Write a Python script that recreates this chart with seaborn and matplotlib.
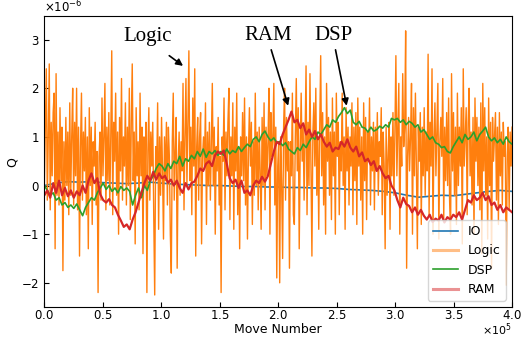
import matplotlib
matplotlib.use('Agg')
import numpy as np
import pandas as pd
import matplotlib.pyplot as plt
import seaborn as sns

# values in units of 1e-6 (moves 0 .. 4e5, evenly spaced)
logic = [
    0.0, 1.2, 2.4, -0.3, 1.0, 2.5, -0.5, 1.3, 0.2, 1.5, 1.9, -1.3, 2.3, -0.2, 1.1, -0.4, 1.6, 0.1, 1.2, -1.75, 0.9, -0.3, 1.4, 0.0, 1.1, -0.6, 1.7, -0.2, 1.0, 2.0, -0.4, 1.3,
    0.2, 2.0, -0.5, 1.2, -1.45, 0.8, 1.9, -0.3, 1.1, 0.3, 1.4, -0.6, 1.0, -1.3, 1.6, 0.0, 1.2, -0.8, 0.9, 0.4, 1.3, -0.4, 0.7, -2.2, 0.6, 1.1, -0.3, 1.8, 0.2, 1.0, 2.1, -0.5,
    1.2, 0.1, 1.5, -0.4, 1.0, 2.77, -0.6, 1.3, 0.5, 1.9, -0.2, 1.1, -1.0, 1.4, 0.3, 2.2, -0.3, 1.0, 0.4, 1.7, -0.4, 1.2, 0.0, 2.0, -0.7, 1.3, 2.5, 0.1, 1.1, -1.2, 1.6, 0.2,
    0.9, -0.5, 1.9, 0.2, 1.2, -1.4, 1.0, 0.0, 1.3, -2.2, 0.7, 1.6, -0.3, 1.1, 0.4, 1.3, -0.6, -2.25, 0.8, 0.2, 1.7, -0.9, 1.0, -0.2, 1.4, 0.3, -1.1, 1.0, 0.1, 1.3, -0.4, 1.2,
    0.6, -1.0, -1.8, 0.9, 1.9, -0.3, 0.7, 1.4, -1.7, 0.4, 1.1, -0.2, 0.9, 0.3, 2.1, -0.5, 1.0, 2.2, 0.0, 1.3, 2.77, 0.1, 1.2, -0.6, 1.8, 0.4, 2.4, -1.45, 0.8, 1.4, -0.3, 1.0,
    1.5, -1.2, 0.6, 1.0, 0.4, 1.7, -0.8, 1.1, 0.0, 1.3, -0.3, 0.9, 2.1, 0.0, 1.2, -1.0, 0.8, 0.3, 1.4, -0.4, 0.6, -2.2, 1.0, 0.5, 1.8, -0.5, 1.1, 0.2, 1.3, 2.0, -0.7, 1.0,
    0.2, 1.7, -0.9, 1.2, 0.3, 1.9, -0.6, 0.8, -1.3, 1.0, 0.2, 1.5, 0.1, 1.8, -0.4, 1.0, -1.1, 0.7, 1.6, 0.4, 1.3, -0.8, 0.9, -0.2, 1.9, 0.0, 1.1, -0.5, 1.2, 0.3, -0.9, 1.4,
    0.0, 1.7, -0.5, 1.2, 0.2, 0.9, 2.0, -1.0, 1.5, 0.6, 1.0, 2.1, -0.4, 1.2, -1.9, 0.4, 0.9, -2.0, 1.0, 0.0, -1.5, 1.2, 2.0, -0.3, 1.4, 0.3, 0.9, -1.7, 0.9, 0.2, 1.9, -0.6,
    -0.8, 1.0, 2.2, 0.3, 1.6, -1.3, 0.7, 1.9, 0.5, 1.2, -0.3, 1.0, 2.46, -0.6, 1.3, 0.0, 2.3, 0.4, -1.45, 1.1, 1.7, 0.4, 2.0, -0.2, 1.0, -0.9, 1.2, 2.67, 0.2, 1.5, -0.4, 1.0,
    -1.0, 2.1, 0.5, 1.4, -0.2, 1.1, -0.7, 1.8, 0.2, 1.1, -1.0, 1.9, 0.6, 1.3, -0.6, 0.9, 0.3, 1.9, 0.0, 1.0, -0.9, 1.6, 0.3, 1.2, -0.4, 1.0, 0.4, 1.7, -0.6, 1.2, 0.1, 1.5,
    -0.8, 1.8, 0.4, 1.2, -0.3, 1.0, -1.0, 1.7, 0.1, 1.4, -0.7, 1.1, 0.5, 1.8, -0.4, 1.0, 0.3, 1.3, -0.5, 1.2, 0.3, 1.5, -0.2, 0.9, 0.6, 1.6, -0.6, 1.1, 0.4, -1.3, 1.2, -0.2,
    0.6, 1.3, -0.9, 1.0, 0.2, 1.5, -0.2, 1.1, 2.67, 0.2, 1.2, 2.1, -1.0, 1.0, 0.4, 2.3, 0.8, 1.2, 3.18, -1.7, 0.6, 1.4, 0.3, 1.0, 2.1, -1.0, 1.6, 0.2, 1.9, 0.4, -1.3, 1.2,
    0.5, 1.5, -0.8, 1.2, 0.2, 1.6, -0.2, 1.1, 0.3, 2.7, -0.6, 1.3, 0.4, 2.4, -1.0, 1.0, 1.7, 0.2, 1.2, 2.1, -1.1, 0.9, 1.4, 0.6, 2.2, -0.7, 1.2, 0.1, 1.5, 0.0, 1.8, -0.3,
    -1.0, 2.3, 0.3, 1.5, -0.2, 1.2, -0.8, 1.9, 0.0, 1.2, 0.4, 1.6, -1.2, 2.4, 0.4, 1.0, 1.6, -0.6, 1.3, 2.0, 0.2, 1.1, -0.4, 1.4, -1.0, 1.8, 0.5, 1.4, 0.0, 1.2, -0.5, 1.7,
    -1.4, 2.1, 0.3, 1.6, -0.2, 1.0, -1.1, 1.8, 0.0, 1.3, -1.7, 1.4, 0.5, 1.0, 1.5, -0.3, 1.2, -0.8, 1.5, 0.2, 1.1, -0.4, 1.3, 0.6, 0.9, -2.05, 0.6, 1.2, -0.5, 1.1, 0.4, 1.2,
]

ram = [
    -0.2, -0.1, -0.25, 0.05, -0.15, 0.1, -0.2, -0.05, -0.22, -0.1, -0.25, -0.12, -0.2, 0.0, -0.15, 0.1, 0.25, 0.05, 0.15, -0.18,
    -0.3, -0.35, -0.28, -0.4, -0.45, -0.6, -0.72, -0.85, -0.8, -0.9, -0.7, -0.55, -0.35, -0.15, 0.05, 0.2, 0.1, 0.28, 0.12, 0.25,
    0.15, 0.2, 0.06, 0.12, 0.0, 0.1, -0.05, -0.15, 0.05, -0.08, 0.05, 0.08, 0.2, 0.35, 0.3, 0.45, 0.5, 0.4, 0.62, 0.7,
    0.65, 0.72, 0.45, 0.15, 0.05, 0.12, -0.05, 0.1, -0.15, -0.1, -0.2, 0.0, 0.1, 0.05, 0.18, 0.08, 0.2, 0.45, 0.7, 0.9,
    0.85, 1.05, 1.2, 1.35, 1.52, 1.3, 1.35, 1.18, 1.28, 1.05, 1.15, 1.0, 1.12, 0.95, 1.05, 0.9, 0.8, 0.88, 0.7, 0.78,
    0.75, 0.9, 0.8, 0.95, 0.78, 0.7, 0.8, 0.6, 0.68, 0.5, 0.55, 0.42, 0.5, 0.3, 0.4, 0.25, 0.15, 0.2, 0.0, -0.1,
    -0.3, -0.45, -0.25, -0.38, -0.42, -0.55, -0.45, -0.6, -0.5, -0.62, -0.7, -0.6, -0.75, -0.68, -0.72, -0.6, -0.76, -0.65, -0.7, -0.6,
    -0.65, -0.55, -0.7, -0.5, -0.3, -0.35, -0.2, -0.3, -0.25, -0.15, -0.3, -0.22, -0.4, -0.35, -0.5, -0.4, -0.55, -0.45, -0.5, -0.55,
]

dsp = [
    0.0, -0.1, -0.2, -0.15, -0.3, -0.25, -0.4, -0.35, -0.45, -0.4, -0.47, -0.38, -0.5, -0.62, -0.45, -0.35, -0.25, -0.3, -0.15, -0.05,
    0.05, -0.08, 0.0, -0.12, -0.05, -0.15, -0.02, -0.1, -0.05, -0.12, -0.4, -0.2, -0.05, -0.25, 0.0, -0.1, 0.1, 0.2, 0.35, 0.45,
    0.4, 0.3, 0.45, 0.35, 0.5, 0.45, 0.6, 0.4, 0.55, 0.5, 0.62, 0.55, 0.7, 0.6, 0.75, 0.58, 0.7, 0.65, 0.72, 0.62,
    0.7, 0.62, 0.75, 0.65, 0.72, 0.68, 0.8, 0.7, 0.78, 0.85, 0.8, 0.95, 1.0, 0.9, 1.05, 1.12, 1.0, 0.92, 0.98, 0.88,
    0.9, 0.82, 0.88, 0.75, 0.7, 0.65, 0.78, 0.72, 0.85, 0.78, 0.9, 1.0, 0.95, 1.1, 1.05, 1.15, 1.25, 1.2, 1.35, 1.3,
    1.42, 1.5, 1.6, 1.48, 1.55, 1.3, 1.25, 1.32, 1.2, 1.18, 1.1, 1.2, 1.12, 1.15, 1.22, 1.18, 1.25, 1.2, 1.38, 1.35,
    1.38, 1.3, 1.35, 1.25, 1.32, 1.28, 1.2, 1.25, 1.1, 1.15, 1.05, 0.95, 1.0, 0.88, 0.85, 0.78, 0.8, 0.7, 0.67, 0.8,
    0.9, 1.0, 0.88, 1.05, 0.95, 1.0, 1.1, 0.92, 1.05, 1.12, 1.2, 1.0, 0.92, 0.98, 0.88, 0.95, 0.85, 1.0, 0.9, 0.85,
]

io = [
    0.0, 0.05, 0.08, 0.07, 0.08, 0.06, 0.05, 0.04, 0.05, 0.07,
    0.05, 0.03, 0.02, 0.01, 0.0, 0.0, -0.01, -0.02, -0.02, -0.03,
    -0.03, -0.04, -0.04, -0.05, -0.05, -0.06, -0.08, -0.09, -0.1, -0.12,
    -0.15, -0.2, -0.24, -0.22, -0.2, -0.21, -0.18, -0.15, -0.12, -0.1, -0.12,
]

series = [('IO', io, '#1f77b4', 1.2), ('Logic', logic, '#ff7f0e', 1.0),
          ('DSP', dsp, '#2ca02c', 1.2), ('RAM', ram, '#d62728', 1.6)]

fig = plt.figure(figsize=(5.22, 3.39), dpi=100)
ax = fig.add_axes([0.085, 0.094, 0.896, 0.858])

for name, vals, col, lw in series:
    d = pd.DataFrame({'move': np.linspace(0, 4e5, len(vals)), 'q': np.array(vals) * 1e-6})
    sns.lineplot(data=d, x='move', y='q', ax=ax, color=col, linewidth=lw, label=name)

ax.set_xlim(0, 4e5)
ax.set_ylim(-2.5e-6, 3.48e-6)
ax.ticklabel_format(style='sci', axis='both', scilimits=(0, 0), useMathText=True)
ax.tick_params(direction='in', labelsize=8.5)
ax.tick_params(axis='x', pad=1.5)
ax.yaxis.get_offset_text().set_fontsize(8.5)
# x offset placed by hand so it stays inside the figure
ax.xaxis.get_offset_text().set_visible(False)
fig.text(0.981, 0.004, r'$\times10^{5}$', ha='right', va='bottom', fontsize=8)
ax.set_xlabel('Move Number', fontsize=9, labelpad=0.5)
ax.set_ylabel('Q', fontsize=9, labelpad=2)

leg = ax.legend(loc='lower right', fontsize=9)
for i in (1, 3):
    leg.get_lines()[i].set_alpha(0.5)
    leg.get_lines()[i].set_linewidth(2.2)

tfont = dict(family='Liberation Serif', fontsize=15, ha='center', va='center')
ax.text(0.88e5, 3.06e-6, 'Logic', **tfont)
ax.text(1.91e5, 3.08e-6, 'RAM', **tfont)
ax.text(2.47e5, 3.08e-6, 'DSP', **tfont)

arr = dict(arrowstyle='-|>', color='black', lw=1.2, mutation_scale=10, shrinkA=0, shrinkB=0)
ax.annotate('', xy=(1.186e5, 2.46e-6), xytext=(1.068e5, 2.67e-6), arrowprops=arr)
ax.annotate('', xy=(2.085e5, 1.64e-6), xytext=(1.94e5, 2.79e-6), arrowprops=arr)
ax.annotate('', xy=(2.585e5, 1.64e-6), xytext=(2.49e5, 2.79e-6), arrowprops=arr)

fig.savefig('out.png', dpi=100)
